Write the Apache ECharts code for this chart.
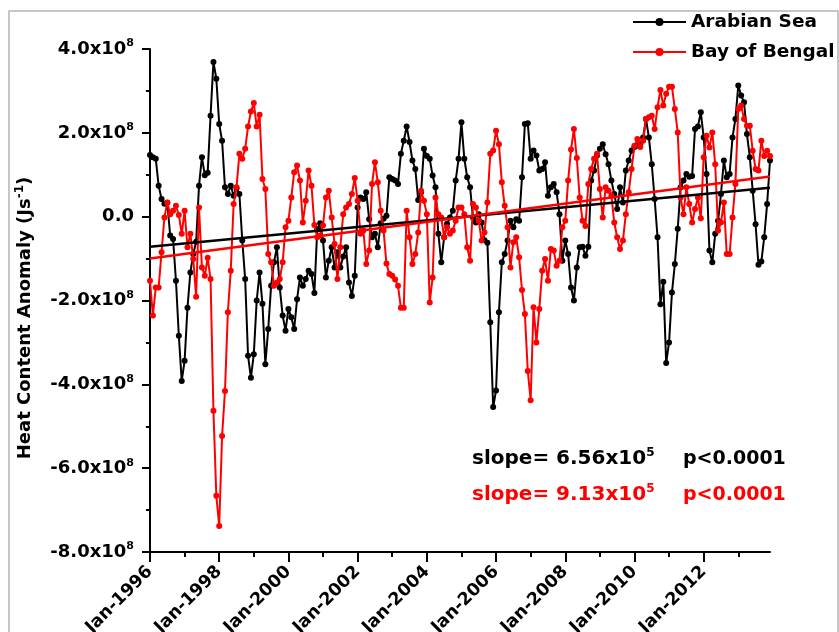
<!DOCTYPE html>
<html>
<head>
<meta charset="utf-8">
<script src="https://cdn.jsdelivr.net/npm/echarts@6/dist/echarts.min.js"></script>
<style>
html,body{margin:0;padding:0;background:#fff;overflow:hidden;}
#chart{width:839px;height:632px;}
</style>
</head>
<body>
<div id="chart"></div>
<script>
// Monthly heat content anomaly, units of 1e8 J/s, Jan-1996 .. Dec-2013
const monthNames = ['Jan','Feb','Mar','Apr','May','Jun','Jul','Aug','Sep','Oct','Nov','Dec'];
const years = [1996,1997,1998,1999,2000,2001,2002,2003,2004,2005,2006,2007,2008,2009,2010,2011,2012,2013];
const xTickLabels = ['Jan-1996','Jan-1998','Jan-2000','Jan-2002','Jan-2004','Jan-2006','Jan-2008','Jan-2010','Jan-2012'];
const yTicks = [-8, -6, -4, -2, 0, 2, 4];

const arabianSea = [
 1.47, 1.42, 1.38, 0.74, 0.42, 0.31, 0.33,-0.45,-0.53,-1.53,-2.84,-3.92,
-3.44,-2.17,-1.33,-0.89,-0.60, 0.74, 1.42, 0.99, 1.05, 2.41, 3.69, 3.29,
 2.21, 1.81, 0.70, 0.54, 0.74, 0.50, 0.68, 0.54,-0.57,-1.49,-3.32,-3.84,
-3.28,-2.00,-1.33,-2.08,-3.52,-2.68,-1.65,-1.09,-0.73,-1.69,-2.36,-2.72,
-2.20,-2.40,-2.68,-1.97,-1.45,-1.65,-1.49,-1.29,-1.37,-1.82,-0.30,-0.16,
-0.57,-1.45,-1.05,-0.73,-1.21,-0.85,-1.21,-0.95,-0.73,-1.57,-1.89,-1.41,
 0.22, 0.46, 0.42, 0.58,-0.06,-0.49,-0.41,-0.73,-0.16,-0.05, 0.02, 0.94,
 0.90, 0.86, 0.78, 1.50, 1.81, 2.15, 1.78, 1.34, 1.14, 0.40, 0.58, 1.62,
 1.45, 1.38, 0.98, 0.70,-0.41,-1.09,-0.49,-0.17,-0.02, 0.14, 0.86, 1.38,
 2.25, 1.38, 0.94, 0.70,-0.02,-0.14, 0.06,-0.14,-0.56,-0.62,-2.52,-4.54,
-4.15,-2.28,-1.09,-0.89,-0.57,-0.10,-0.25,-0.06,-0.10, 0.94, 2.21, 2.23,
 1.38, 1.58, 1.46, 1.10, 1.14, 1.30, 0.50, 0.70, 0.78, 0.58, 0.06,-1.05,
-0.57,-0.89,-1.69,-2.00,-1.21,-0.73,-0.72,-0.93,-0.72, 0.86, 1.10, 1.46,
 1.62, 1.73, 1.49, 1.25, 0.86, 0.54, 0.18, 0.70, 0.34, 1.10, 1.34, 1.58,
 1.66, 1.70, 1.73, 1.89, 2.33, 1.89, 1.25, 0.42,-0.49,-2.09,-1.55,-3.49,
-3.00,-1.81,-1.13,-0.29, 0.70, 0.86, 1.02, 0.95, 0.97, 2.09, 2.15, 2.49,
 1.89, 1.02,-0.81,-1.09,-0.41,-0.10, 0.54, 1.34, 0.94, 1.02, 1.89, 2.33,
 3.13, 2.89, 2.73, 1.97, 1.42, 0.62,-0.18,-1.15,-1.07,-0.49, 0.30, 1.34
];

const bayOfBengal = [
-1.53,-2.36,-1.69,-1.69,-0.85,-0.02, 0.34, 0.06, 0.14, 0.26, 0.04,-0.41,
 0.14,-0.73,-0.41,-1.01,-1.91, 0.22,-1.21,-1.41,-0.98,-1.49,-4.63,-6.66,
-7.38,-5.23,-4.16,-2.28,-1.29, 0.30, 0.70, 1.50, 1.38, 1.62, 2.15, 2.51,
 2.71, 2.15, 2.43, 0.90, 0.66,-0.89,-1.09,-1.65,-1.57,-1.49,-1.09,-0.25,
-0.10, 0.46, 1.06, 1.22, 0.86,-0.14, 0.38, 1.10, 0.74,-0.20,-0.49,-0.45,
-0.21, 0.46, 0.62,-0.02,-0.65,-1.49,-0.73, 0.06, 0.22, 0.30, 0.54, 0.92,
 0.38,-0.41,-0.33,-1.13,-0.81, 0.78, 1.30, 0.82, 0.14,-0.33,-1.12,-1.37,
-1.41,-1.50,-1.65,-2.17,-2.17, 0.14,-0.49,-1.13,-0.89,-0.38, 0.62, 0.38,
 0.06,-2.05,-1.45, 0.46, 0.06,-0.02,-0.49,-0.25,-0.41,-0.33,-0.10, 0.22,
 0.22, 0.06,-0.73,-1.05, 0.30, 0.22,-0.10,-0.57,-0.38, 0.34, 1.50, 1.58,
 2.05, 1.73, 0.82, 0.26,-0.25,-1.21,-0.61,-0.49,-0.97,-1.75,-2.32,-3.68,
-4.38,-2.16,-3.00,-2.20,-1.29,-1.01,-1.53,-0.77,-0.81,-1.17,-1.05,-0.25,
-0.10, 0.86, 1.60, 2.09, 1.40, 0.46,-0.10,-0.22, 0.78, 1.14, 1.38, 1.50,
 0.66,-0.02, 0.70, 0.62, 0.50,-0.14,-0.49,-0.77,-0.57, 0.06, 0.58, 1.14,
 1.69, 1.85, 1.66, 1.81, 2.33, 2.37, 2.41, 2.09, 2.61, 3.02, 2.65, 2.93,
 3.10, 3.10, 2.57, 2.01, 0.46, 0.06, 0.70, 0.30,-0.14, 0.18, 0.46,-0.04,
 1.42, 1.93, 1.65, 2.01, 1.25,-0.33,-0.14, 0.34,-0.89,-0.89,-0.02, 0.78,
 2.57, 2.65, 2.33, 2.17, 2.17, 1.57, 1.14, 1.10, 1.81, 1.45, 1.57, 1.45
];

// linear trend endpoints (first and last month)
const arabianTrend = [-0.72, 0.69];
const bengalTrend = [-1.00, 0.96];

const slopeTexts = [
  { slope: '6.56x10', exp: '5', p: 'p<0.0001', color: '#000000' },
  { slope: '9.13x10', exp: '5', p: 'p<0.0001', color: '#ff0000' }
];

const yAxisTitle = { main: 'Heat Content Anomaly (Js', sup: '-1', tail: ')' };

const months = [];
years.forEach(y => monthNames.forEach(m => months.push(m + '-' + y)));
const n = arabianSea.length;
const trendData = (t) => months.slice(0, n).map((_, i) => (i === 0 ? t[0] : (i === n - 1 ? t[1] : null)));

const FONT = 'DejaVu Sans';
const chart = echarts.init(document.getElementById('chart'), null, {renderer: 'canvas'});

const catData = months.slice(0, n);

const option = {
  animation: false,
  backgroundColor: '#ffffff',
  grid: { left: 150, top: 49, width: 620, height: 503, containLabel: false, outerBoundsMode: 'none' },
  legend: {
    orient: 'vertical',
    left: 632, top: 12,
    padding: 0,
    itemGap: 10,
    itemWidth: 53, itemHeight: 10,
    data: ['Arabian Sea', 'Bay of Bengal'],
    textStyle: { fontFamily: FONT, fontWeight: 'bold', fontSize: 18.5, color: '#000', lineHeight: 20 }
  },
  xAxis: [{
    type: 'category',
    data: catData,
    boundaryGap: false,
    axisLine: { show: true, onZero: false, lineStyle: { color: '#000', width: 2 } },
    axisTick: { show: true, length: 10, lineStyle: { color: '#000', width: 2 },
      interval: (i, v) => xTickLabels.indexOf(v) >= 0 },
    axisLabel: {
      interval: (i, v) => xTickLabels.indexOf(v) >= 0,
      rotate: 45, margin: 17,
      fontFamily: FONT, fontWeight: 'bold', fontSize: 17.5, color: '#000'
    },
    splitLine: { show: false }
  }, {
    type: 'category',
    data: catData,
    boundaryGap: false,
    position: 'bottom',
    axisLine: { show: false, onZero: false },
    axisTick: { show: true, length: 5, lineStyle: { color: '#000', width: 2 },
      interval: (i, v) => v.indexOf('Jan-') === 0 },
    axisLabel: { show: false },
    splitLine: { show: false }
  }],
  yAxis: {
    type: 'value',
    min: yTicks[0], max: yTicks[yTicks.length - 1], interval: 2,
    axisLine: { show: true, onZero: false, lineStyle: { color: '#000', width: 2 } },
    axisTick: { show: true, length: 8, lineStyle: { color: '#000', width: 2 } },
    minorTick: { show: true, splitNumber: 2, length: 4, lineStyle: { color: '#000', width: 2 } },
    splitLine: { show: false },
    axisLabel: {
      margin: 16,
      formatter: (v) => v === 0 ? '{m|0.0}' : '{m|' + v.toFixed(1) + 'x10}{s|8}',
      rich: {
        m: { fontFamily: FONT, fontWeight: 'bold', fontSize: 18, color: '#000', lineHeight: 22 },
        s: { fontFamily: FONT, fontWeight: 'bold', fontSize: 11, color: '#000', verticalAlign: 'top', lineHeight: 12 }
      }
    }
  },
  series: [
    { name: 'Arabian Sea', type: 'line', data: arabianSea, symbol: 'circle', symbolSize: 6, showAllSymbol: true,
      lineStyle: { color: '#000', width: 2 }, itemStyle: { color: '#000' }, z: 2 },
    { name: 'Bay of Bengal', type: 'line', data: bayOfBengal, symbol: 'circle', symbolSize: 6, showAllSymbol: true,
      lineStyle: { color: '#ff0000', width: 2 }, itemStyle: { color: '#ff0000' }, z: 3 },
    { name: 'trendA', type: 'line', data: trendData(arabianTrend), connectNulls: true, showSymbol: false,
      symbol: 'none', lineStyle: { color: '#000', width: 2.5 }, z: 4 },
    { name: 'trendB', type: 'line', data: trendData(bengalTrend), connectNulls: true, showSymbol: false,
      symbol: 'none', lineStyle: { color: '#ff0000', width: 2.5 }, z: 5 }
  ],
  graphic: [
    { type: 'rect', shape: { x: 9, y: 11, width: 829, height: 640 }, silent: true,
      style: { fill: 'none', stroke: '#b4b4b4', lineWidth: 1.5 }, z: -10 },
    { type: 'text', x: 25, y: 318, rotation: Math.PI / 2, silent: true,
      style: {
        text: '{n|' + yAxisTitle.main + '}{s|' + yAxisTitle.sup + '}{n|' + yAxisTitle.tail + '}',
        align: 'center', verticalAlign: 'middle',
        rich: {
          n: { fontFamily: FONT, fontWeight: 'bold', fontSize: 18, fill: '#000', lineHeight: 22 },
          s: { fontFamily: FONT, fontWeight: 'bold', fontSize: 12, fill: '#000', verticalAlign: 'top', lineHeight: 12 }
        }
      } }
  ].concat(slopeTexts.map((s, i) => ({
    type: 'text', left: 472, top: 447 + i * 36, silent: true,
    style: {
      text: '{m|slope= ' + s.slope + '}{s|' + s.exp + '}',
      rich: {
        m: { fontFamily: FONT, fontWeight: 'bold', fontSize: 20, fill: s.color, lineHeight: 24 },
        s: { fontFamily: FONT, fontWeight: 'bold', fontSize: 12, fill: s.color, verticalAlign: 'top', lineHeight: 12 }
      }
    }
  }))).concat(slopeTexts.map((s, i) => ({
    type: 'text', left: 683, top: 447 + i * 36, silent: true,
    style: { text: s.p, fontFamily: FONT, fontWeight: 'bold', fontSize: 19, fill: s.color, lineHeight: 24 }
  })))
};
chart.setOption(option);
</script>
</body>
</html>
